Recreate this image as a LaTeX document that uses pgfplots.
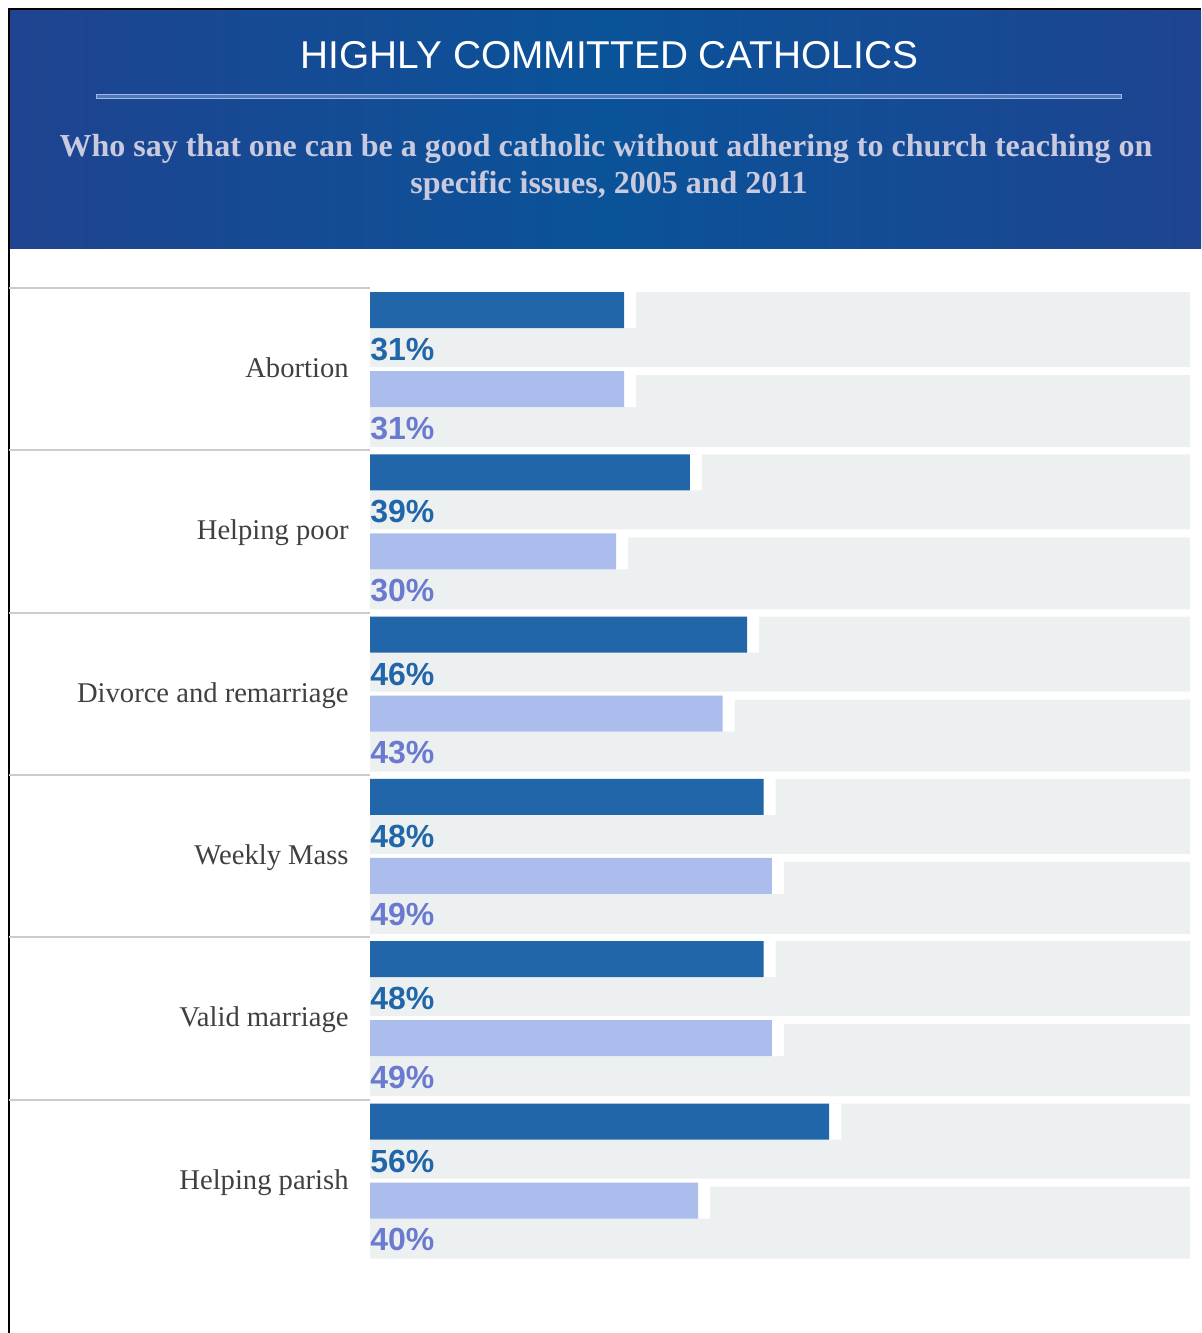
\documentclass[border=0pt]{standalone}
\usepackage{pgfplots}
\usepackage{pgfplotstable}
\pgfplotsset{compat=1.18}
\usepackage{fontspec}
\setmainfont{Liberation Serif}
\newfontfamily\arial{Liberation Sans}
\definecolor{darkbar}{HTML}{2166A8}
\definecolor{lightbar}{HTML}{ABBDEC}
\definecolor{bggray}{HTML}{EDF0F1}
\definecolor{lightlab}{HTML}{6A7BCF}
\definecolor{cattext}{HTML}{404040}
\definecolor{subtxt}{HTML}{CACADF}
\definecolor{hA}{HTML}{0C3F7C}
\definecolor{hB}{HTML}{2B3A8B}
\definecolor{hC}{HTML}{0A5399}
\definecolor{divgray}{HTML}{CCCCCC}
\definecolor{ruleline}{HTML}{A9B5E8}
\pgfdeclarehorizontalshading{hdr}{100bp}{color(0bp)=(hA); color(11bp)=(hB); color(50bp)=(hC); color(91bp)=(hB); color(100bp)=(hA)}

\pgfplotstableread{
idx dark light full
0 31 31 100
1 39 30 100
2 46 43 100
3 48 49 100
4 48 49 100
5 56 40 100
}\data

\begin{document}
\begin{tikzpicture}
\useasboundingbox (0,0) rectangle (600.5pt,-666.5pt);
\begin{axis}[
  at={(0,0)}, anchor=north west,
  scale only axis, width=600.5pt, height=666.5pt,
  xmin=-45.12195, xmax=101.34146,
  ymin=0, ymax=1333, y dir=reverse,
  hide axis, clip=false,
  /pgf/number format/assume math mode=true,
]
% gray backgrounds
\addplot[xbar, bar shift=0pt, bar width=75, fill=bggray, draw=none]
  table[x=full, y expr=288+162.3*\thisrow{idx}+41.5] {\data};
\addplot[xbar, bar shift=0pt, bar width=72, fill=bggray, draw=none]
  table[x=full, y expr=288+162.3*\thisrow{idx}+123] {\data};
% white gaps to the right of the bars
\addplot[xbar, bar shift=0pt, bar width=36, fill=white, draw=none]
  table[x expr=\thisrow{dark}+1.4634, y expr=288+162.3*\thisrow{idx}+22] {\data};
\addplot[xbar, bar shift=0pt, bar width=36, fill=white, draw=none]
  table[x expr=\thisrow{light}+1.4634, y expr=288+162.3*\thisrow{idx}+101] {\data};
% bars
\addplot[xbar, bar shift=0pt, bar width=36, fill=darkbar, draw=none]
  table[x=dark, y expr=288+162.3*\thisrow{idx}+22] {\data};
\addplot[xbar, bar shift=0pt, bar width=36, fill=lightbar, draw=none]
  table[x=light, y expr=288+162.3*\thisrow{idx}+101] {\data};
% value labels
\addplot[draw=none, mark=none, point meta=explicit,
  nodes near coords={\pgfmathprintnumber[fixed,precision=0,assume math mode=true]{\pgfplotspointmeta}\%},
  every node near coord/.append style={anchor=base west, inner sep=0pt, text=darkbar, font=\arial\bfseries\fontsize{16}{16}\selectfont}]
  table[x expr=0, y expr=288+162.3*\thisrow{idx}+72.5, meta=dark] {\data};
\addplot[draw=none, mark=none, point meta=explicit,
  nodes near coords={\pgfmathprintnumber[fixed,precision=0,assume math mode=true]{\pgfplotspointmeta}\%},
  every node near coord/.append style={anchor=base west, inner sep=0pt, text=lightlab, font=\arial\bfseries\fontsize{16}{16}\selectfont}]
  table[x expr=0, y expr=288+162.3*\thisrow{idx}+151, meta=light] {\data};
\end{axis}
\begin{scope}[x=0.5pt, y=-0.5pt]
  % header
  \shade[shading=hdr] (9,10) rectangle (1201,248.5);
  \draw[black, line width=1pt] (8,9) -- (1201,9);
  \draw[black, line width=1pt] (9,8) -- (9,1333);
  \node[anchor=base, text=white, inner sep=0pt, font=\arial\fontsize{19.4}{19.4}\selectfont] at (609.5,68.3) {HIGHLY COMMITTED CATHOLICS};
  \draw[ruleline, line width=0.5pt, fill=hC!60!ruleline] (96,94.5) rectangle (1121,98);
  \node[anchor=base, text=subtxt, inner sep=0pt, font=\bfseries\fontsize{16}{16}\selectfont] at (606,156.5) {Who say that one can be a good catholic without adhering to church teaching on};
  \node[anchor=base, text=subtxt, inner sep=0pt, font=\bfseries\fontsize{16}{16}\selectfont] at (609,193.5) {specific issues, 2005 and 2011};
  % dividers
  \foreach \t in {288,450.3,612.6,774.9,937.2,1099.5} {
    \draw[divgray, line width=1pt] (9,\t) -- (370,\t);
  }
  % category labels
  \foreach \lab [count=\i from 0] in {Abortion,Helping poor,Divorce and remarriage,Weekly Mass,Valid marriage,Helping parish} {
    \node[anchor=base east, inner sep=0pt, text=cattext, font=\fontsize{14.3}{14.3}\selectfont] at (349,288+162.3*\i+89.5) {\lab};
  }
\end{scope}
\end{tikzpicture}
\end{document}
